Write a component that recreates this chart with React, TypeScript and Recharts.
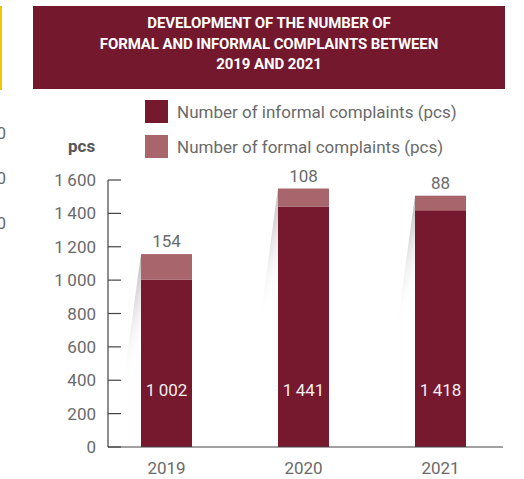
import { BarChart, Bar, XAxis, YAxis, LabelList } from "recharts";

const years = ["2019", "2020", "2021"];
const informal = [1002, 1441, 1418];
const formal = [154, 108, 88];
const yTicks = [0, 200, 400, 600, 800, 1000, 1200, 1400, 1600];

const data = years.map((year, i) => ({ year, informal: informal[i], formal: formal[i] }));

const INFORMAL = "#76182e";
const FORMAL = "#a9656c";
const GREY = "#6a6a6a";
const FONT = "Roboto, 'DejaVu Sans', sans-serif";

// thousands with a narrow space, like "1 600"
const fmt = (v: number) => String(v).replace(/\B(?=(\d{3})+(?!\d))/g, "\u2009");

function YTick(props: any) {
  const { x, y, payload } = props;
  return (
    <g>
      <line x1={x} x2={x + 13} y1={y} y2={y} stroke="#444" strokeWidth={1.2} />
      <text x={x - 12} y={y} dy="0.36em" textAnchor="end" fill={GREY} fontSize={17} fontFamily={FONT}>
        {fmt(payload.value)}
      </text>
    </g>
  );
}

function FormalShape(props: any) {
  const { x, y, width, height } = props;
  return (
    <g>
      <polygon points={`${x},${y} ${x - 17},${y + 125} ${x},${y + 125}`} fill="url(#shade)" />
      <rect x={x} y={y} width={width} height={height} fill={FORMAL} />
    </g>
  );
}

function InnerLabel(props: any) {
  const { x, y, width, height, value } = props;
  return (
    <text x={x + width / 2} y={y + height - 51} textAnchor="middle" fill="#f2eef0" fontSize={17} fontFamily={FONT}>
      {fmt(value)}
    </text>
  );
}

export default function App() {
  return (
    <div style={{ position: "absolute", left: 0, top: 0, width: 524, height: 479, overflow: "hidden", fontFamily: FONT }}>
      <div style={{ position: "absolute", left: 0, top: 6, width: 2, height: 84, background: "#f5c400" }} />
      {[133, 178, 223].map((t) => (
        <div key={t} style={{ position: "absolute", right: 518, top: t - 11, fontSize: 17, color: GREY, lineHeight: "22px" }}>
          00
        </div>
      ))}
      <div
        style={{
          position: "absolute",
          left: 33,
          top: 6,
          width: 472,
          height: 83,
          background: "#74182e",
          color: "#fff",
          fontWeight: 700,
          fontSize: 15,
          lineHeight: "20.5px",
          textAlign: "center",
          paddingTop: 7,
          boxSizing: "border-box",
          letterSpacing: -0.1,
        }}
      >
        DEVELOPMENT OF THE NUMBER OF
        <br />
        FORMAL AND INFORMAL COMPLAINTS BETWEEN
        <br />
        2019 AND 2021
      </div>
      {[
        { top: 100, color: INFORMAL, label: "Number of informal complaints (pcs)" },
        { top: 135, color: FORMAL, label: "Number of formal complaints (pcs)" },
      ].map((l) => (
        <div key={l.label} style={{ position: "absolute", left: 145, top: l.top, display: "flex", alignItems: "center" }}>
          <div style={{ width: 23, height: 23, background: l.color }} />
          <span style={{ marginLeft: 9, fontSize: 17, color: GREY }}>{l.label}</span>
        </div>
      ))}
      <div style={{ position: "absolute", left: 68, top: 136, fontSize: 17, fontWeight: 700, color: "#555" }}>pcs</div>
      <div style={{ position: "absolute", left: 0, top: 0 }}>
        <BarChart width={524} height={479} data={data} margin={{ top: 180, right: 21, bottom: 0, left: 8 }} barSize={51}>
          <defs>
            <linearGradient id="shade" x1="0" y1="0" x2="0.3" y2="1">
              <stop offset="0%" stopColor="#666" stopOpacity={0.9} />
              <stop offset="100%" stopColor="#fff" stopOpacity={0} />
            </linearGradient>
          </defs>
          <XAxis
            dataKey="year"
            axisLine={{ stroke: "#444", strokeWidth: 1.2 }}
            tickLine={false}
            tickSize={0}
            tickMargin={15}
            height={32}
            padding={{ left: -10, right: -6 }}
            tick={{ fill: GREY, fontSize: 17, fontFamily: FONT }}
          />
          <YAxis
            width={100}
            domain={[0, 1600]}
            ticks={yTicks}
            interval={0}
            axisLine={{ stroke: "#444", strokeWidth: 1.2 }}
            tickLine={false}
            tickSize={0}
            tickMargin={0}
            tick={<YTick />}
          />
          <Bar dataKey="informal" stackId="a" fill={INFORMAL} isAnimationActive={false}>
            <LabelList dataKey="informal" content={<InnerLabel />} />
          </Bar>
          <Bar dataKey="formal" stackId="a" fill={FORMAL} shape={<FormalShape />} isAnimationActive={false}>
            <LabelList dataKey="formal" position="top" offset={7} fill={GREY} fontSize={17} fontFamily={FONT} />
          </Bar>
        </BarChart>
      </div>
    </div>
  );
}
